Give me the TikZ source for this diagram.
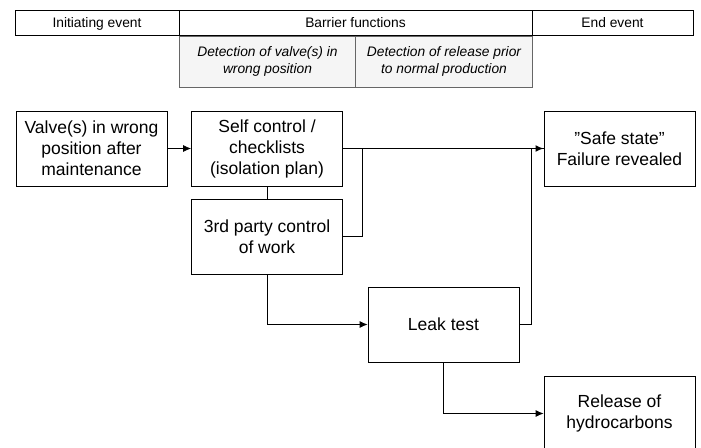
\documentclass[tikz,border=0pt]{standalone}
\usepackage{fontspec}
\setmainfont{Liberation Sans}
\usetikzlibrary{arrows.meta, positioning}

\begin{document}
\begin{tikzpicture}[
    x=1pt, y=-1pt,
    eventbox/.style={draw, line width=0.8pt, minimum width=151pt, minimum height=75pt, inner sep=0pt, align=center, font=\fontsize{17.5}{21}\selectfont},
    headcell/.style={draw, line width=0.8pt, minimum width=#1, minimum height=25pt, inner sep=0pt, text height=9.9pt, text depth=0pt, font=\fontsize{13.8}{16}\selectfont},
    subcell/.style={draw=black!60, fill=black!4, line width=0.8pt, minimum width=176.5pt, minimum height=51pt, inner sep=0pt, align=center, font=\fontsize{13.8}{17.5}\selectfont\itshape},
    flow/.style={line width=0.8pt, -{Latex[length=8pt, width=7pt]}},
    link/.style={line width=0.8pt}
]
    \useasboundingbox (0,0) rectangle (701,447);
    \clip (0,0) rectangle (701,447);

    % Header row
    \node[headcell=164pt] (init) at (97,22.5) {Initiating event};
    \node[headcell=353pt] (barrier) at (355.5,22.5) {Barrier functions};
    \node[headcell=161pt] (endev) at (612.5,22.5) {End event};
    \node[subcell] (detvalve) at (267.5,61.5) {Detection of valve(s) in\\wrong position};
    \node[subcell] (detrelease) at (444,61.5) {Detection of release prior\\to normal production};

    % Events and barriers
    \node[eventbox] (valve) at (91.5,148.5) {Valve(s) in wrong\\position after\\maintenance};
    \node[eventbox] (selfctl) at (267,148.5) {Self control /\\checklists\\(isolation plan)};
    \node[eventbox] (third) at (267,236.5) {3rd party control\\of work};
    \node[eventbox] (safe) at (619.5,148.5) {”Safe state”\\Failure revealed};
    \node[eventbox] (leak) at (443.5,324.5) {Leak test};
    \node[eventbox] (release) at (619.5,413.5) {Release of\\hydrocarbons};

    % Connectors
    \draw[flow] (valve) -- (selfctl);
    \draw[link] (selfctl) -- (third);
    \path (selfctl.east) ++(19,0) coordinate (join);
    \draw[link] (selfctl.east) -- (join);
    \draw[link] (third.east) -| (join);
    \draw[link] (leak.east) -- ++(12,0) |- (safe.west);
    \draw[flow, line width=1.6pt] (join) -- (safe.west);
    \draw[flow] (third.south) |- (leak.west);
    \draw[flow] (leak.south) |- (release.west);
\end{tikzpicture}
\end{document}
